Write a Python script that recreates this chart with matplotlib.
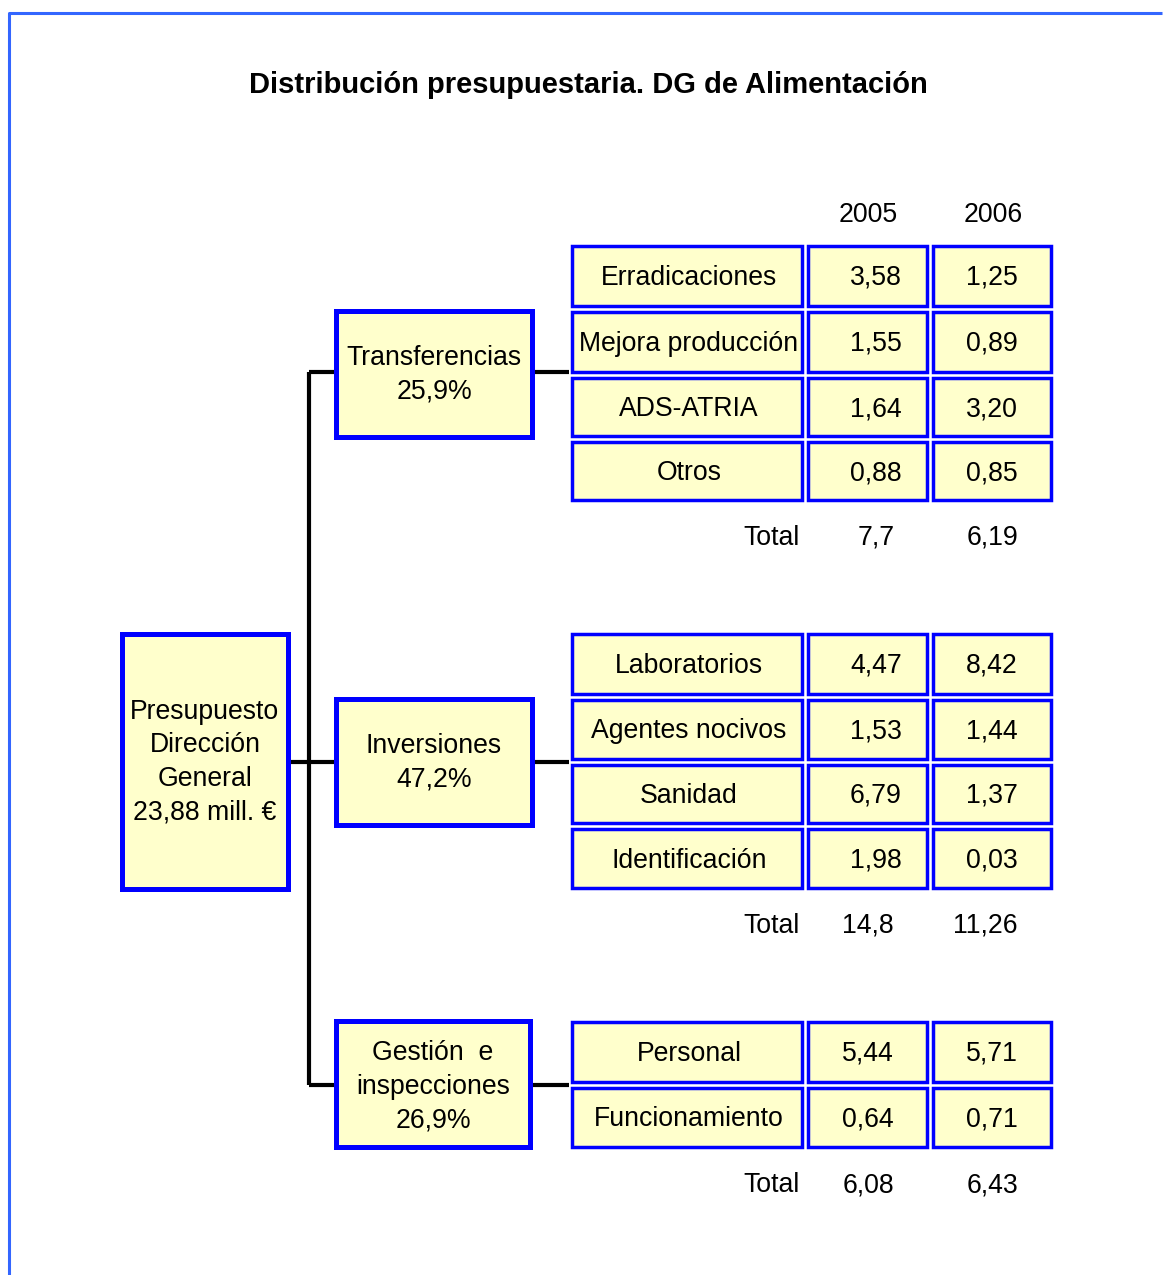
import matplotlib.pyplot as plt
from matplotlib.patches import Rectangle

plt.rcParams['font.family'] = ['Liberation Sans', 'DejaVu Sans']

title = "Distribución presupuestaria. DG de Alimentación"
years = ["2005", "2006"]
root_label = "Presupuesto\nDirección\nGeneral\n23,88 mill. €"
group_labels = ["Transferencias\n25,9%", "Inversiones\n47,2%", "Gestión  e\ninspecciones\n26,9%"]
items_transf = ["Erradicaciones", "Mejora producción", "ADS-ATRIA", "Otros"]
v2005_transf = ["3,58", "1,55", "1,64", "0,88"]
v2006_transf = ["1,25", "0,89", "3,20", "0,85"]
items_inv = ["Laboratorios", "Agentes nocivos", "Sanidad", "Identificación"]
v2005_inv = ["4,47", "1,53", "6,79", "1,98"]
v2006_inv = ["8,42", "1,44", "1,37", "0,03"]
items_gest = ["Personal", "Funcionamiento"]
v2005_gest = ["5,44", "0,64"]
v2006_gest = ["5,71", "0,71"]
totals_2005 = ["7,7", "14,8", "6,08"]
totals_2006 = ["6,19", "11,26", "6,43"]

FILL = "#FFFFCC"
EDGE = "#0000FF"
FS = 19.2
LS = 1.38
DY = 2

fig = plt.figure(figsize=(11.63, 12.75), dpi=100)
ax = fig.add_axes([0, 0, 1, 1])
ax.set_xlim(0, 1163)
ax.set_ylim(1275, 0)
ax.axis("off")

# outer frame (only top and left visible)
ax.plot([9, 9, 1162], [1275, 13, 13], color="#3366FF", lw=2.2, solid_capstyle="butt")

ax.text(588, 83 + DY, title, ha="center", va="center", fontsize=21, fontweight="bold")


def box(x0, y0, x1, y1, text, lw=2.5, tx=None, ty=None):
    ax.add_patch(Rectangle((x0, y0), x1 - x0, y1 - y0, facecolor=FILL,
                           edgecolor=EDGE, lw=lw, zorder=3))
    if text:
        ax.text((x0 + x1) / 2 if tx is None else tx,
                ((y0 + y1) / 2 if ty is None else ty) + DY,
                text, ha="center", va="center", fontsize=FS,
                linespacing=LS, zorder=4)


def line(xs, ys):
    ax.plot(xs, ys, color="black", lw=3, solid_capstyle="butt", zorder=2)


# root box
box(122, 634, 288, 889, root_label, lw=3.6, ty=760)

# connectors
line([309, 309], [372, 1085])
line([287, 334], [762, 762])
line([309, 334], [372, 372])
line([309, 334], [1085, 1085])

group_boxes = [(336, 311, 532, 437, 372), (336, 699, 532, 825, 762),
               (336, 1021, 530, 1147, 1085)]
group_text_y = [373, 761, 1085]
for (x0, y0, x1, y1, yc), lab, ty in zip(group_boxes, group_labels, group_text_y):
    box(x0, y0, x1, y1, lab, lw=3.6, ty=ty)
    line([x1, 569], [yc, yc])

# tables
cols = [(569, 805), (805, 930), (930, 1054)]
tables = [
    (items_transf, v2005_transf, v2006_transf, [243, 309, 375, 439, 503], 876),
    (items_inv, v2005_inv, v2006_inv, [631, 697, 762, 826, 891], 876),
    (items_gest, v2005_gest, v2006_gest, [1019, 1085, 1150], 868),
]
g = 2.8
for k, (items, a, b, ys, x05) in enumerate(tables):
    for i in range(len(items)):
        y0, y1 = ys[i] + g, ys[i + 1] - g
        box(cols[0][0] + g, y0, cols[0][1] - g, y1, items[i], tx=689)
        box(cols[1][0] + g, y0, cols[1][1] - g, y1, a[i], tx=x05)
        box(cols[2][0] + g, y0, cols[2][1] - g, y1, b[i], tx=992)
    ty = ys[-1] + 33 + DY
    ax.text(772, ty, "Total", ha="center", va="center", fontsize=FS)
    ax.text(x05 if k == 0 else 868, ty, totals_2005[k], ha="center", va="center", fontsize=FS)
    ax.text(992 if k != 1 else 985, ty, totals_2006[k], ha="center", va="center", fontsize=FS)

ax.text(868, 213 + DY, years[0], ha="center", va="center", fontsize=FS)
ax.text(993, 213 + DY, years[1], ha="center", va="center", fontsize=FS)

fig.savefig("out.png", dpi=100)
